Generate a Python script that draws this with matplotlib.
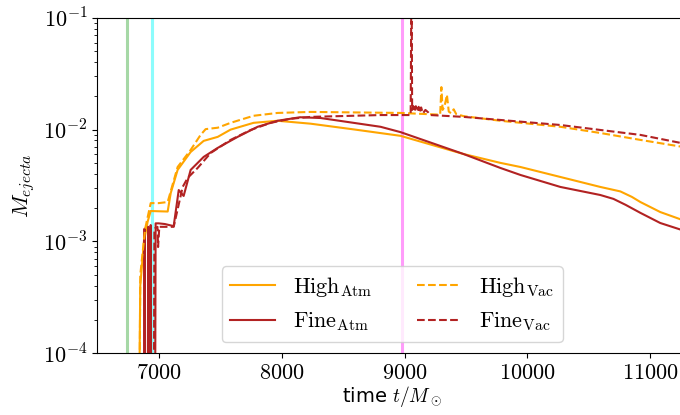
import numpy as np
import matplotlib
matplotlib.use("Agg")
import matplotlib.pyplot as plt
from matplotlib.ticker import FuncFormatter, FixedLocator, LogLocator

plt.rcParams['mathtext.fontset'] = 'cm'
plt.rcParams['font.size'] = 14

# ---- data ----
high_atm_t = [6820, 6850, 6880, 6910, 6935, 7000, 7073, 7098, 7154, 7260, 7366, 7480,
              7585, 7772, 7967, 8236, 8600, 8967, 9480, 9780, 9943, 10268, 10593,
              10756, 10850, 10919, 11081, 11300]
high_atm_m = [1e-7, 4e-4, 1.0e-3, 1.5e-3, 1.87e-3, 1.86e-3, 1.85e-3, 2.71e-3, 4.36e-3,
              6.31e-3, 7.93e-3, 8.61e-3, 1.0e-2, 1.15e-2, 1.2e-2, 1.13e-2, 1.0e-2,
              8.8e-3, 6.05e-3, 5.04e-3, 4.63e-3, 3.77e-3, 3.07e-3, 2.8e-3, 2.5e-3,
              2.25e-3, 1.83e-3, 1.5e-3]

fine_atm_t = [6875, 6885, 6895, 6905, 6915, 6925, 6935, 6945, 6955, 6965, 6975, 7000,
              7050, 7122, 7163, 7203, 7260, 7366, 7480, 7642, 7805, 7967, 8150, 8317,
              8805, 8967, 9480, 9780, 9943, 10268, 10593, 10700, 10800, 10919, 11081,
              11300]
fine_atm_m = [1e-7, 1.3e-3, 1e-7, 1e-7, 1.35e-3, 1e-7, 1.4e-3, 1e-7, 1e-7, 1e-7, 1.45e-3,
              1.45e-3, 1.43e-3, 1.37e-3, 2.88e-3, 2.55e-3, 4.36e-3, 5.7e-3, 6.86e-3,
              8.61e-3, 1.06e-2, 1.2e-2, 1.29e-2, 1.27e-2, 1.06e-2, 9.5e-3, 6.05e-3,
              4.54e-3, 3.93e-3, 3.07e-3, 2.6e-3, 2.4e-3, 2.12e-3, 1.8e-3, 1.46e-3,
              1.22e-3]

high_vac_t = [6830, 6850, 6890, 6935, 7000, 7073, 7154, 7260, 7341, 7382, 7480, 7585,
              7772, 7967, 8236, 8967, 9290, 9300, 9310, 9325, 9345, 9360, 9380, 9400,
              9420, 9480, 9780, 10268, 10593, 10919, 11300]
high_vac_m = [1e-7, 5e-4, 1.3e-3, 2.2e-3, 2.2e-3, 2.25e-3, 4.63e-3, 6.58e-3, 8.97e-3,
              1.01e-2, 1.04e-2, 1.15e-2, 1.33e-2, 1.41e-2, 1.44e-2, 1.41e-2, 1.36e-2,
              2.4e-2, 1.5e-2, 1.6e-2, 2.05e-2, 1.45e-2, 1.4e-2, 1.52e-2, 1.38e-2,
              1.32e-2, 1.2e-2, 1.06e-2, 9.33e-3, 8.09e-3, 6.9e-3]

fine_vac_t = [6955, 6965, 6990, 6995, 7005, 7122, 7195, 7236, 7317, 7423, 7585, 7748,
              7911, 8073, 8236, 8805, 9050, 9057, 9062, 9072, 9082, 9092, 9105, 9115,
              9125, 9135, 9150, 9170, 9195, 9211, 9480, 9780, 10268, 10593, 10919,
              11300]
fine_vac_m = [1e-7, 1.3e-3, 1.35e-3, 8.9e-4, 1.35e-3, 1.35e-3, 3.07e-3, 3.7e-3, 4.54e-3,
              6.18e-3, 8.09e-3, 9.93e-3, 1.15e-2, 1.25e-2, 1.30e-2, 1.35e-2, 1.35e-2,
              0.3, 1.5e-2, 1.62e-2, 1.45e-2, 1.62e-2, 1.45e-2, 1.6e-2, 1.42e-2,
              1.58e-2, 1.4e-2, 1.5e-2, 1.42e-2, 1.35e-2, 1.30e-2, 1.22e-2, 1.10e-2,
              9.93e-3, 8.97e-3, 7.4e-3]

vline_t = [6740, 6943, 8976]
vline_colors = ['#a6d8a6', '#8cfcfc', '#ff9cfa']

xticks = [7000, 8000, 9000, 10000, 11000]

# ---- plot ----
fig = plt.figure(figsize=(6.8, 4.15), dpi=100)
ax = fig.add_axes([0.143, 0.149, 0.8676, 0.808])

for t, c in zip(vline_t, vline_colors):
    ax.axvline(t, color=c, lw=2.2, zorder=1)

ax.plot(high_atm_t, high_atm_m, color='orange', lw=1.5, ls='-',
        label=r'$\mathrm{High}_{\mathrm{Atm}}$')
ax.plot(fine_atm_t, fine_atm_m, color='firebrick', lw=1.5, ls='-',
        label=r'$\mathrm{Fine}_{\mathrm{Atm}}$')
ax.plot(high_vac_t, high_vac_m, color='orange', lw=1.5, ls='--',
        label=r'$\mathrm{High}_{\mathrm{Vac}}$')
ax.plot(fine_vac_t, fine_vac_m, color='firebrick', lw=1.5, ls='--',
        label=r'$\mathrm{Fine}_{\mathrm{Vac}}$')

ax.set_yscale('log')
ax.set_ylim(1e-4, 1e-1)
ax.set_xlim(6500, 11300)
ax.xaxis.set_major_locator(FixedLocator(xticks))
ax.xaxis.set_major_formatter(FuncFormatter(lambda v, p: r'$%d$' % v))
ax.yaxis.set_major_locator(LogLocator(base=10))
ax.yaxis.set_major_formatter(FuncFormatter(lambda v, p: r'$10^{%d}$' % int(round(np.log10(v)))))
ax.tick_params(axis='both', which='major', labelsize=16)
ax.spines['right'].set_visible(False)

ax.set_xlabel(r'time $t/M_\odot$', fontsize=14, labelpad=1)
ax.set_ylabel(r'$M_{ejecta}$', fontsize=16)

leg = ax.legend(loc='lower center', ncol=2, fontsize=16, handlelength=2.0,
                columnspacing=2.0, borderaxespad=0.5)

fig.savefig('out.png', dpi=100)
